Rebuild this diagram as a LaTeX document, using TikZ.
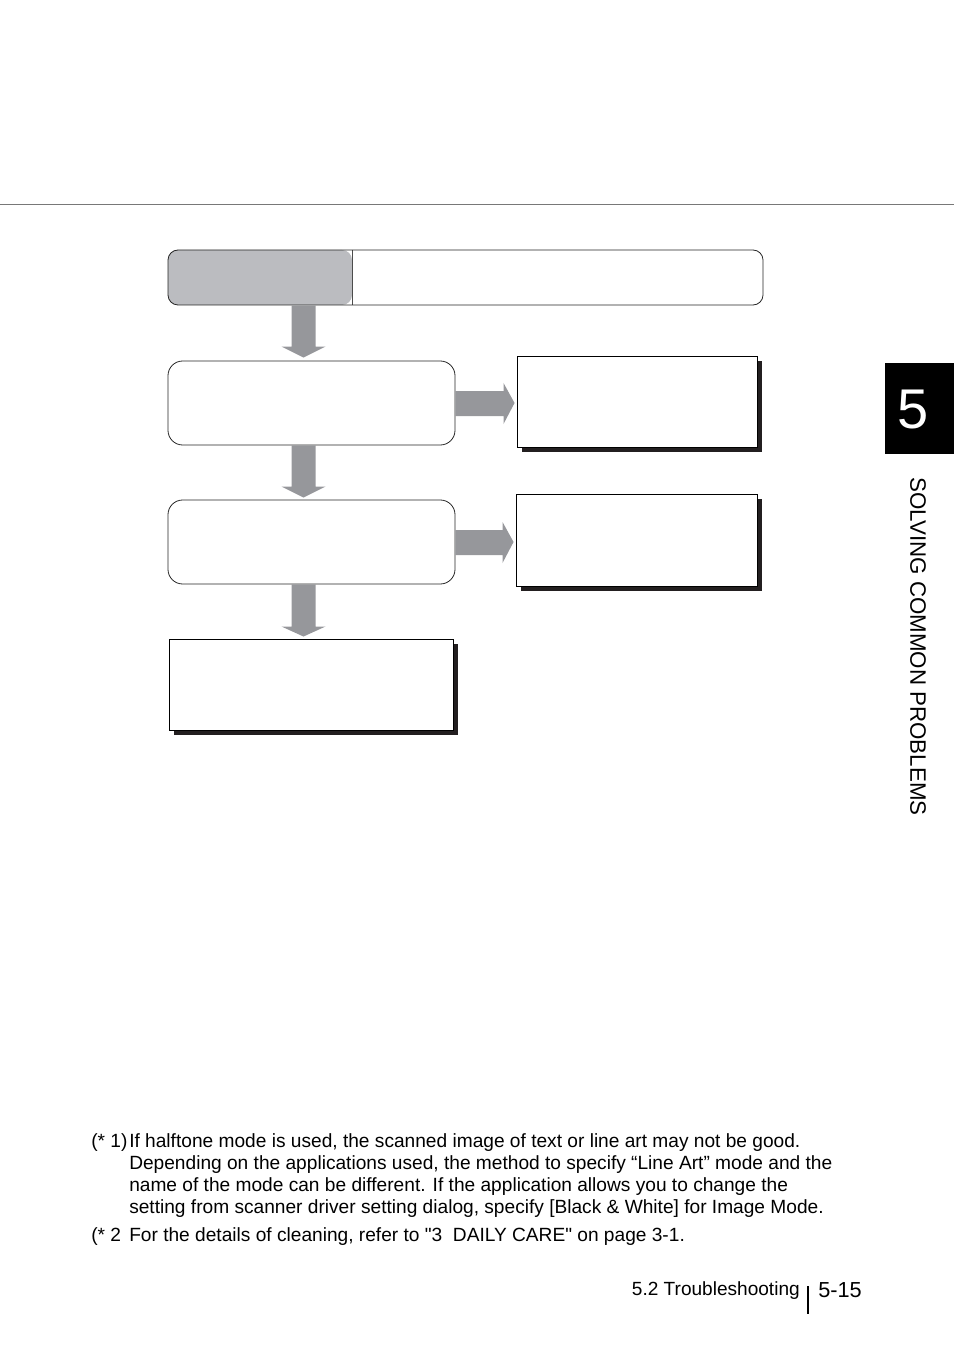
\documentclass[tikz,border=0pt]{standalone}
\usepackage{fontspec}
\setmainfont{Liberation Sans}
\usepackage{tikz}
\usetikzlibrary{calc,shadows}

\definecolor{flowgray}{RGB}{150,151,155}
\definecolor{boxgray}{RGB}{187,188,192}
\definecolor{shadowblack}{RGB}{35,31,32}
\definecolor{rulegray}{RGB}{120,120,120}

% Block arrows between boxes
\newcommand{\flowdown}[4]{%
  \fill[flowgray] ($(#1.south -| ax)+(-12,0)$) -- ($(#2.north -| ax)+(-12,#3)$) -- ++(-10,0)
    -- ($(#2.north -| ax)+(0,#4)$) -- ($(#2.north -| ax)+(22,#3)$) -- ++(-10,0)
    -- ($(#1.south -| ax)+(12,0)$) -- cycle;}
\newcommand{\flowright}[2]{%
  \fill[flowgray] ($(#1.east)+(0,-12)$) -- ($(#2.west |- #1.east)+(-13,-12)$) -- ++(0,-8)
    -- ($(#2.west |- #1.east)+(-2,0)$) -- ($(#2.west |- #1.east)+(-13,21)$) -- ++(0,-8)
    -- ($(#1.east)+(0,13)$) -- cycle;}

\begin{document}
\begin{tikzpicture}[x=0.75pt,y=-0.75pt,
    roundbox/.style={draw=black!85, line width=0.6pt, rounded corners=11pt, inner sep=0pt},
    shadowbox/.style={draw=black, line width=0.7pt, fill=white, inner sep=0pt,
      drop shadow={shadow xshift=3.8pt, shadow yshift=-3.8pt, fill=shadowblack, opacity=1}},
    note/.style={anchor=base west, inner sep=0pt, font=\fontsize{14.35pt}{16.5pt}\selectfont},
    foot/.style={inner sep=0pt, font=\fontsize{14.3pt}{16pt}\selectfont}]
\useasboundingbox (0,0) rectangle (954,1351);
% Header rule
\draw[rulegray, line width=0.6pt] (0,204) -- (954,204);
% Flow boxes
\node[roundbox, rounded corners=7.5pt, minimum width=446.25pt, minimum height=41.25pt,
  path picture={\fill[boxgray] (path picture bounding box.north west) rectangle ($(path picture bounding box.south west)+(184,0)$);
  \draw[black!70, line width=0.5pt] ($(path picture bounding box.north west)+(184,0)$) -- ($(path picture bounding box.south west)+(184,0)$);}]
  (top) at (465.5,277.5) {};
\node[roundbox, minimum width=215.25pt, minimum height=63pt] (checkA) at (311.5,403) {};
\node[roundbox, minimum width=215.25pt, minimum height=63pt] (checkB) at (311.5,542) {};
\node[shadowbox, minimum width=180pt, minimum height=68.25pt] (resA) at (637,401.5) {};
\node[shadowbox, minimum width=180.75pt, minimum height=69pt] (resB) at (636.5,540) {};
\node[shadowbox, minimum width=213pt, minimum height=68.25pt] (last) at (311,684.5) {};
% Connections
\coordinate (ax) at (303.5,0);
\flowdown{top}{checkA}{-14}{-3}
\flowdown{checkA}{checkB}{-13}{-2}
\flowdown{checkB}{last}{-12}{-2}
\flowright{checkA}{resA}
\flowright{checkB}{resB}
% Chapter tab
\node[fill=black, anchor=north west, minimum width=51.75pt, minimum height=68.25pt, inner sep=0pt] (tab) at (885,363) {};
\node[text=white, inner sep=0pt, font=\fontsize{42pt}{42pt}\selectfont] (tabnum) at (913,410) {5};
\node[rotate=-90, inner sep=0pt, font=\fontsize{16.75pt}{18pt}\selectfont] (chapter) at (918,646.5) {SOLVING COMMON PROBLEMS};
% Notes
\node[note] (noteA) at (91,1147) {(* 1)};
\node[note] (noteAa) at (129,1147) {If halftone mode is used, the scanned image of text or line art may not be good.};
\node[note] (noteAb) at (129,1169) {Depending on the applications used, the method to specify “Line Art” mode and the};
\node[note] (noteAc) at (129,1191) {name of the mode can be different. If the application allows you to change the};
\node[note] (noteAd) at (129,1213) {setting from scanner driver setting dialog, specify [Black \& White] for Image Mode.};
\node[note] (noteB) at (91,1241) {(* 2};
\node[note] (noteBa) at (129,1241) {For the details of cleaning, refer to \textquotedbl 3~~DAILY CARE\textquotedbl{} on page 3-1.};
% Footer
\node[foot, anchor=base east] (section) at (800,1295) {5.2 Troubleshooting};
\draw[line width=1.2pt] (808,1286) coordinate (barA) -- (808,1314) coordinate (barB);
\node[foot, anchor=base west, font=\fontsize{16.3pt}{18pt}\selectfont] (pageno) at (818,1297) {5-15};
\end{tikzpicture}
\end{document}
